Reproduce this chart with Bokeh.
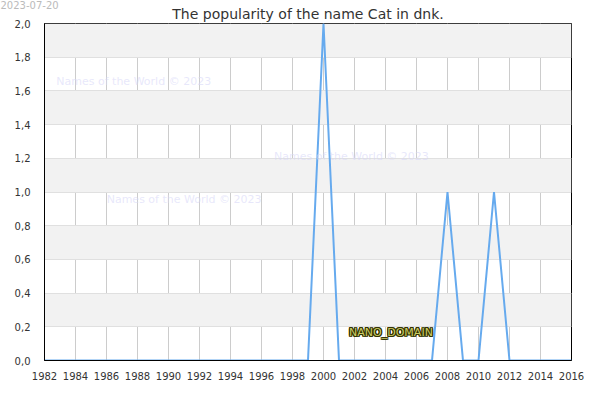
from bokeh.plotting import figure
from bokeh.models import Range1d, FixedTicker, CustomJSTickFormatter, Label, Title
from bokeh.embed import file_html
from bokeh.resources import INLINE

# ---- data ----
years = list(range(1982, 2017))
values = [0] * len(years)
for yr, v in [(2000, 2), (2008, 1), (2011, 1)]:
    values[years.index(yr)] = v

x_ticks = list(range(1982, 2017, 2))
y_ticks = [0.0, 0.2, 0.4, 0.6, 0.8, 1.0, 1.2, 1.4, 1.6, 1.8, 2.0]

title_text = "The popularity of the name Cat in dnk."
date_text = "2023-07-20"
watermark = "Names of the World © 2023"
badge = "NANO_DOMAIN"

FONT = "DejaVu Sans"

WIDTH, HEIGHT = 584, 384
LEFT, RIGHT, TOP, BOTTOM = 44, 13, 23, 24
W = WIDTH - LEFT - RIGHT
H = HEIGHT - TOP - BOTTOM

p = figure(width=WIDTH, height=HEIGHT, output_backend="svg", toolbar_location=None,
           x_range=Range1d(1982, 2016), y_range=Range1d(0, 2),
           min_border_left=LEFT, min_border_right=RIGHT, min_border_top=TOP,
           min_border_bottom=BOTTOM, title=None)
p.outline_line_color = "black"
p.outline_line_width = 1
p.background_fill_color = "white"
p.border_fill_color = "white"

p.add_layout(Title(text=title_text, align="center", text_font=FONT, text_font_size="14px",
                   text_font_style="normal", text_color="#333333", standoff=3, offset=-10),
             "above")
p.add_layout(Title(text=date_text, align="left", text_font=FONT, text_font_size="10px",
                   text_font_style="normal", text_color="#bbbbbb", standoff=-12, offset=-44),
             "above")

# grids
p.xgrid.ticker = FixedTicker(ticks=x_ticks)
p.xgrid.grid_line_color = "#cccccc"
p.ygrid.ticker = FixedTicker(ticks=y_ticks)
p.ygrid.grid_line_color = "#e0e0e0"
p.ygrid.band_fill_color = "#f2f2f2"
p.ygrid.band_fill_alpha = 1.0

# axes
p.xaxis.ticker = FixedTicker(ticks=x_ticks)
p.yaxis.ticker = FixedTicker(ticks=y_ticks)
p.yaxis.formatter = CustomJSTickFormatter(code="return tick.toFixed(1).replace('.', ',');")
for ax in (p.xaxis[0], p.yaxis[0]):
    ax.axis_line_color = "black"
    ax.major_tick_line_color = None
    ax.minor_tick_line_color = None
    ax.major_label_text_font = FONT
    ax.major_label_text_font_size = "10px"
    ax.major_label_text_color = "#333333"
p.yaxis.major_label_standoff = 8
p.xaxis.major_label_standoff = 5

# watermarks (screen units relative to frame bottom-left, as fractions of the frame)
for fx, fy in [(0.0224, 0.827), (0.118, 0.478), (0.4355, 0.605)]:
    p.add_layout(Label(x=fx * W, y=fy * H, x_units="screen", y_units="screen", text=watermark,
                       text_font=FONT, text_font_size="11px", text_color="#d8d8f8",
                       text_alpha=0.6, text_baseline="middle", text_align="left"))

# data line
p.line(years, values, line_color="#66aaee", line_width=2)

# badge with outline
bx, by = 0.578 * W, 0.0836 * H
for dx, dy in [(-1, 0), (1, 0), (0, -1), (0, 1), (-1, -1), (1, 1), (-1, 1), (1, -1)]:
    p.add_layout(Label(x=bx + dx, y=by + dy, x_units="screen", y_units="screen", text=badge,
                       text_font=FONT, text_font_size="11px", text_color="#333300",
                       text_baseline="middle", text_align="left"))
p.add_layout(Label(x=bx, y=by, x_units="screen", y_units="screen", text=badge,
                   text_font=FONT, text_font_size="11px", text_color="#cccc66",
                   text_baseline="middle", text_align="left"))

open("out.html", "w").write(file_html(p, INLINE))
